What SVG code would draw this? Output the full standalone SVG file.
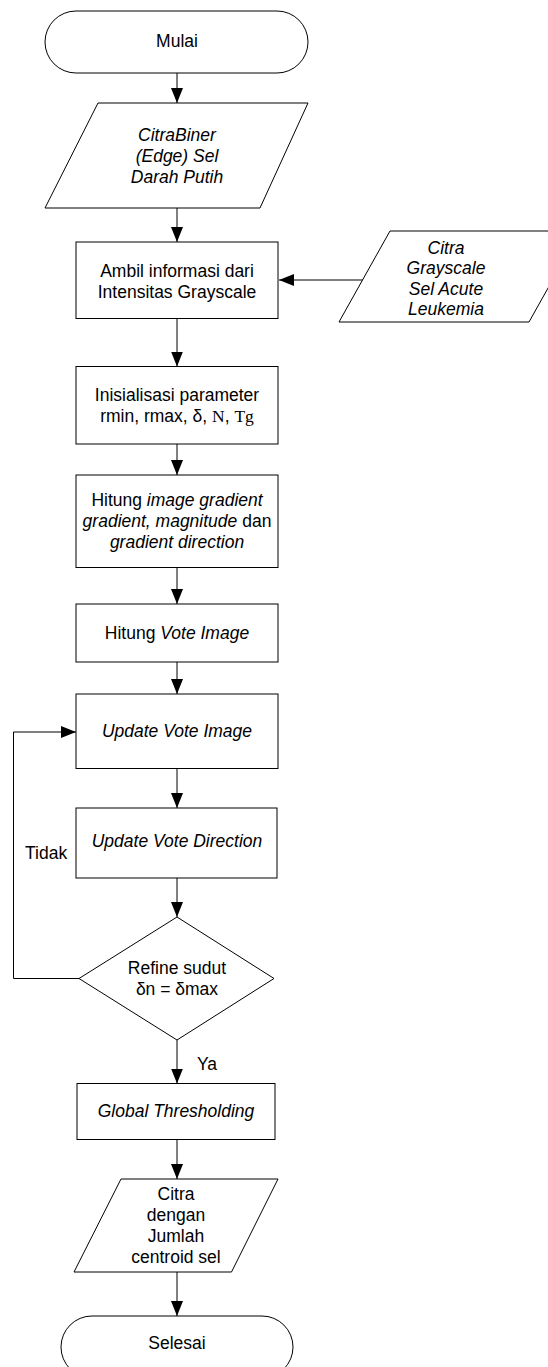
<svg xmlns="http://www.w3.org/2000/svg" width="548" height="1367" viewBox="0 0 548 1367">
<style>
.s{fill:#fff;stroke:#000;stroke-width:1}
.c{fill:none;stroke:#000;stroke-width:1}
text{font-family:"Liberation Sans",Arial,sans-serif;font-size:17.5px;fill:#000}
.m{text-anchor:middle}
.i{font-style:italic}
.t{font-family:"Liberation Serif","Times New Roman",serif}
</style>
<defs>
<marker id="ah" markerUnits="userSpaceOnUse" markerWidth="15" markerHeight="12" refX="15" refY="6" orient="auto">
<path d="M0,0 L15,6 L0,12 z" fill="#000"/>
</marker>
</defs>
<rect width="548" height="1367" fill="#fff"/>
<g id="connectors">
<line class="c" x1="177" y1="73" x2="177" y2="103" marker-end="url(#ah)"/>
<line class="c" x1="177" y1="208" x2="177" y2="242" marker-end="url(#ah)"/>
<line class="c" x1="177" y1="318.5" x2="177" y2="366.5" marker-end="url(#ah)"/>
<line class="c" x1="177" y1="444" x2="177" y2="475" marker-end="url(#ah)"/>
<line class="c" x1="177" y1="567.5" x2="177" y2="604" marker-end="url(#ah)"/>
<line class="c" x1="177" y1="662" x2="177" y2="694" marker-end="url(#ah)"/>
<line class="c" x1="177" y1="768.5" x2="177" y2="808" marker-end="url(#ah)"/>
<line class="c" x1="177" y1="878" x2="177" y2="917" marker-end="url(#ah)"/>
<line class="c" x1="177" y1="1040" x2="177" y2="1083.5" marker-end="url(#ah)"/>
<line class="c" x1="177" y1="1139.5" x2="177" y2="1179" marker-end="url(#ah)"/>
<line class="c" x1="177" y1="1272" x2="177" y2="1316" marker-end="url(#ah)"/>
<line class="c" x1="363" y1="280" x2="279" y2="280" marker-end="url(#ah)"/>
<polyline class="c" points="79,978.5 13.5,978.5 13.5,732 76,732" marker-end="url(#ah)"/>
<text x="25" y="859">Tidak</text>
<text x="197" y="1070">Ya</text>
</g>
<g id="mulai">
<rect class="s" x="45" y="11" width="263" height="62" rx="31"/>
<text class="m" x="177" y="47">Mulai</text>
</g>
<g id="citra-biner">
<polygon class="s" points="98,103 308,103 260,208 45,208"/>
<text class="m i" x="177" y="140.5">CitraBiner</text>
<text class="m i" x="177" y="161.5">(Edge) Sel</text>
<text class="m i" x="177" y="182.5">Darah Putih</text>
</g>
<g id="ambil">
<rect class="s" x="76" y="242" width="202" height="76.5"/>
<text class="m" x="177" y="277">Ambil informasi dari</text>
<text class="m" x="177" y="297.5">Intensitas Grayscale</text>
</g>
<g id="citra-grayscale">
<polygon class="s" points="390,231 580,231 529,322 339,322"/>
<text class="m i" x="446" y="253.5">Citra</text>
<text class="m i" x="446" y="274">Grayscale</text>
<text class="m i" x="446" y="294.5">Sel Acute</text>
<text class="m i" x="446" y="315">Leukemia</text>
</g>
<g id="inisialisasi">
<rect class="s" x="76" y="366.5" width="202" height="77.5"/>
<text class="m" x="177" y="401">Inisialisasi parameter</text>
<text class="m" x="177" y="421.5">rmin, rmax, δ, <tspan class="t">N</tspan>, <tspan class="t">Tg</tspan></text>
</g>
<g id="hitung-gradient">
<rect class="s" x="76" y="475" width="202" height="92.5"/>
<text class="m" x="177" y="506">Hitung <tspan class="i">image gradient</tspan></text>
<text class="m" x="177" y="527"><tspan class="i">gradient, magnitude</tspan> dan</text>
<text class="m i" x="177" y="547.5">gradient direction</text>
</g>
<g id="hitung-vote">
<rect class="s" x="76" y="604" width="202" height="58"/>
<text class="m" x="177" y="639">Hitung <tspan class="i">Vote Image</tspan></text>
</g>
<g id="update-vote-image">
<rect class="s" x="76" y="694" width="202" height="74.5"/>
<text class="m i" x="177" y="737">Update Vote Image</text>
</g>
<g id="update-vote-direction">
<rect class="s" x="76" y="808" width="201" height="70"/>
<text class="m i" x="177" y="847">Update Vote Direction</text>
</g>
<g id="refine">
<polygon class="s" points="177,917 274,978.5 177,1040 79,978.5"/>
<text class="m" x="177" y="973.5">Refine sudut</text>
<text class="m" x="177" y="995">δn = δmax</text>
</g>
<g id="global-thresholding">
<rect class="s" x="77" y="1083.5" width="198" height="56"/>
<text class="m i" x="176" y="1117">Global Thresholding</text>
</g>
<g id="citra-centroid">
<polygon class="s" points="121,1179 278,1179 231.5,1272 74,1272"/>
<text class="m" x="176" y="1200">Citra</text>
<text class="m" x="176" y="1221">dengan</text>
<text class="m" x="176" y="1242">Jumlah</text>
<text class="m" x="176" y="1263">centroid sel</text>
</g>
<g id="selesai">
<rect class="s" x="61" y="1316" width="232" height="62" rx="31"/>
<text class="m" x="177" y="1349">Selesai</text>
</g>
</svg>
